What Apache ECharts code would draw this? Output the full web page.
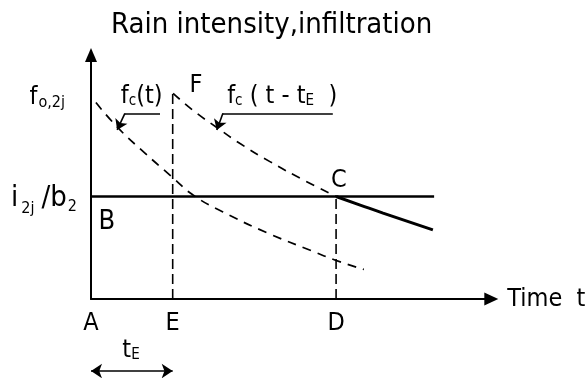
<!DOCTYPE html>
<html><head><meta charset="utf-8">
<script src="https://cdn.jsdelivr.net/npm/echarts@6/dist/echarts.min.js"></script>
<style>html,body{margin:0;padding:0;background:#fff}#c{width:587px;height:378px}</style>
</head><body><div id="c"></div>
<script>
// ---- data (time units: t_E = 2; ordinate in arbitrary intensity units) ----
const timeMarks = [0, 2, 6];
const timeMarkNames = ['A', 'E', 'D'];
const tE = 2;
const tD = 6;
const rainLevel = 4.2;        // i_2j / b_2
const f0Level = 8.43;         // f_0,2j (peak F)
const rainEnd = 8.4;
const yLabelValues = [8.24, 4.1];
const fcT = [[0.12,8.05],[0.67,7.00],[1.28,6.04],[1.98,5.01],[2.50,4.26],[3.23,3.57],[4.33,2.70],[5.41,1.97],[5.97,1.60],[6.68,1.21]];
const fcShifted = [[2.01,8.43],[2.50,7.73],[3.08,7.03],[3.65,6.37],[4.38,5.63],[5.20,4.88],[6.0,4.2]];
const infiltrationAfterC = [[6.0,4.2],[6.59,3.85],[7.15,3.52],[8.37,2.83]];
const leaderFcT = [[1.69,7.61],[0.83,7.61],[0.64,6.93]];
const leaderFcShift = [[5.92,7.61],[3.23,7.61],[3.08,6.93]];
const tEArrowLevel = -2.95;
const annotationTexts = ['{b|B}', 'C', 'F', '{m|f}{s|c}{m|(t)}', '{m|f}{s|c}{m| ( t - t}{s|E}{m|  )}', '{m|t}{s|E}'];
const annotationAt = [[0.39,3.17],[6.07,4.84],[2.57,8.77],[1.24,8.28],[4.68,8.28],[0.98,-2.13]];

const FONT = 'DejaVu Sans Condensed';
const rich = {
  m: {fontSize: 25, fontFamily: FONT, color: '#000'},
  b: {fontSize: 27, fontFamily: FONT, color: '#000'},
  M: {fontSize: 29, fontFamily: FONT, color: '#000'},
  s: {fontSize: 15, fontFamily: FONT, color: '#000', padding: [9, 0, 0, 0]},
  S: {fontSize: 16, fontFamily: FONT, color: '#000', padding: [9, 0, 0, 1]},
  g: {fontSize: 16, fontFamily: FONT, color: '#000', padding: [20, 7, 0, 3]},
  q: {fontSize: 16, fontFamily: FONT, color: '#000', padding: [15, 0, 0, 1]}
};
const segs = a => a.slice(1).map((p, i) => [a[i], p]);
const chart = echarts.init(document.getElementById('c'), null, {renderer: 'canvas'});
const dashed = (w, d) => ({color: '#000', width: w, type: d, opacity: 1});
chart.setOption({
  backgroundColor: '#fff',
  animation: false,
  title: {
    text: 'Rain intensity,infiltration', left: 106, top: 6,
    textStyle: {fontFamily: FONT, fontSize: 29, fontWeight: 'normal', color: '#000'}
  },
  grid: {left: 91, right: 95.7, top: 55, bottom: 79, containLabel: false, outerBoundsMode: 'none'},
  xAxis: {
    type: 'value', min: 0, max: 9.8,
    axisLine: {show: true, onZero: false, symbol: ['none', 'triangle'], symbolSize: [13, 14], lineStyle: {color: '#000', width: 2}},
    axisTick: {show: false}, splitLine: {show: false},
    axisLabel: {customValues: timeMarks, formatter: v => timeMarkNames[timeMarks.indexOf(v)] || '',
      fontFamily: FONT, fontSize: 25, color: '#000', margin: 12},
    name: 'Time  t', nameLocation: 'end', nameGap: 16,
    nameTextStyle: {fontFamily: FONT, fontSize: 25, color: '#000', verticalAlign: 'middle'}
  },
  yAxis: {
    type: 'value', min: 0, max: 10,
    axisLine: {show: true, onZero: false, symbol: ['none', 'triangle'], symbolSize: [12, 14], lineStyle: {color: '#000', width: 2}},
    axisTick: {show: false}, splitLine: {show: false},
    axisLabel: {customValues: yLabelValues,
      formatter: v => v === yLabelValues[0] ? '{m|f}{S|o,2j}{p|}' : '{M|i}{g|2j}{M|/b}{q|2}',
      margin: 14, rich: Object.assign({p: {width: 12}}, rich)}
  },
  series: [
    {type: 'line', data: fcT, smooth: true, symbol: 'none', lineStyle: dashed(1.7, [9, 7])},
    {type: 'line', data: fcShifted, smooth: true, symbol: 'none', lineStyle: dashed(1.7, [9, 7])},
    {type: 'line', data: [[0, rainLevel], [rainEnd, rainLevel]], symbol: 'none', lineStyle: {color: '#000', width: 2.4}},
    {type: 'line', data: infiltrationAfterC, smooth: true, symbol: 'none', lineStyle: {color: '#000', width: 3}},
    {type: 'line', data: [[tE, 0], [tE, f0Level]], symbol: 'none', lineStyle: dashed(1.6, [10, 5])},
    {type: 'line', data: [[tD, 0], [tD, rainLevel]], symbol: 'none', lineStyle: dashed(1.6, [10, 5])},
    {type: 'lines', coordinateSystem: 'cartesian2d', clip: false,
      symbol: 'none', lineStyle: {color: '#000', width: 1.6, opacity: 1},
      data: [segs(leaderFcT)[0], segs(leaderFcShift)[0]].map(c => ({coords: c}))},
    {type: 'lines', coordinateSystem: 'cartesian2d', clip: false,
      symbol: ['none', 'arrow'], symbolSize: 10,
      lineStyle: {color: '#000', width: 1.6, opacity: 1},
      data: [segs(leaderFcT)[1], segs(leaderFcShift)[1]].map(c => ({coords: c}))},
    {type: 'lines', coordinateSystem: 'cartesian2d', clip: false,
      symbol: ['arrow', 'arrow'], symbolSize: 11,
      lineStyle: {color: '#000', width: 1.6, opacity: 1},
      data: [{coords: [[0, tEArrowLevel], [tE, tEArrowLevel]]}]},
    {type: 'scatter', symbolSize: 0, clip: false, silent: true,
      itemStyle: {opacity: 1},
      data: annotationAt.map((p, i) => ({value: p, label: {formatter: annotationTexts[i]}})),
      label: {show: true, position: 'inside', fontFamily: FONT, fontSize: 25, color: '#000', opacity: 1, rich: rich}}
  ]
});
</script></body></html>
